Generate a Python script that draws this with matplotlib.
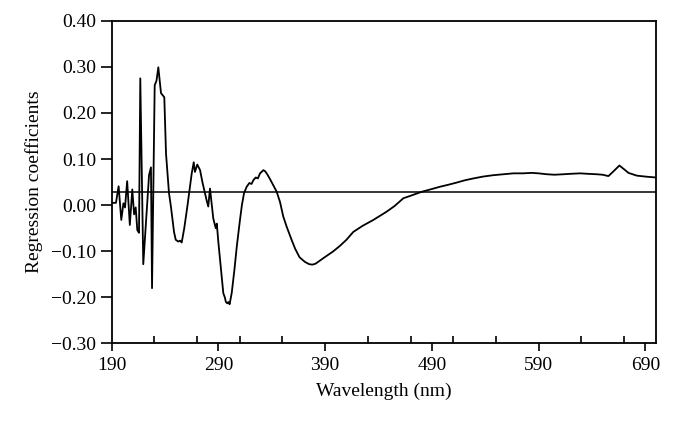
"""Regression coefficients versus wavelength"""

import numpy as np
from matplotlib import pyplot as plt
from matplotlib.ticker import MultipleLocator, FixedLocator

wavelength = [
    190, 194, 196.5, 199, 201, 202.5, 204.5, 207, 209.3, 211, 212.5, 214, 215.6,
    216.8, 219.6, 225, 226.8, 227.8, 230.3, 232, 233.7, 235, 236.2, 239.3, 240.9,
    243.7, 245.5, 248.4, 250, 252.4, 254, 255.6, 258, 260.9, 265, 266.9, 268,
    270.2, 272.8, 275, 277.4, 279, 280.5, 282.1, 285.2, 287.5, 288.5, 289.9,
    292.2, 294.6, 296, 297, 298.3, 299.3, 300.5, 302.5, 305, 307.2, 310.2, 312,
    314, 316.5, 319, 321, 323, 325, 327, 329, 332.2, 334, 336, 338, 341, 344.6,
    347.7, 350.8, 354, 358.7, 362, 366, 371, 375, 378, 381, 388.3, 397.7, 404,
    410, 416.4, 425, 435.2, 447.7, 455, 463.3, 469.6, 480.5, 490, 497.7, 505,
    513.3, 521, 529, 538, 547.6, 557, 566.4, 575, 583.6, 590, 597.7, 605, 613.2,
    620, 628.9, 636, 644.5, 650, 655.4, 660, 665.7, 670, 674.2, 682, 690, 699.8,
]
coefficients = [
    0.005, 0.005, 0.041, -0.032, 0.004, -0.005, 0.052, -0.043, 0.034, -0.020,
    -0.005, -0.054, -0.060, 0.275, -0.128, 0.065, 0.082, -0.180, 0.260, 0.270,
    0.299, 0.270, 0.243, 0.234, 0.112, 0.026, -0.003, -0.058, -0.075, -0.079,
    -0.077, -0.081, -0.050, -0.003, 0.069, 0.093, 0.072, 0.088, 0.076, 0.050,
    0.026, 0.010, -0.003, 0.036, -0.029, -0.050, -0.040, -0.079, -0.134, -0.191,
    -0.200, -0.210, -0.213, -0.210, -0.215, -0.190, -0.140, -0.090, -0.032,
    0.000, 0.026, 0.040, 0.048, 0.046, 0.055, 0.060, 0.058, 0.069, 0.076, 0.073,
    0.066, 0.058, 0.045, 0.029, 0.007, -0.025, -0.047, -0.076, -0.095, -0.113,
    -0.123, -0.128, -0.129, -0.127, -0.115, -0.100, -0.088, -0.075, -0.058,
    -0.045, -0.032, -0.014, -0.002, 0.015, 0.020, 0.029, 0.035, 0.040, 0.044,
    0.049, 0.054, 0.058, 0.062, 0.065, 0.067, 0.069, 0.069, 0.070, 0.069, 0.067,
    0.066, 0.067, 0.068, 0.069, 0.068, 0.067, 0.066, 0.063, 0.073, 0.086, 0.078,
    0.070, 0.064, 0.062, 0.060,
]
reference_level = 0.028


def main():
    """Main method"""

    plt.rcParams['font.family'] = ['Liberation Serif', 'DejaVu Serif']
    fig = plt.figure(figsize=(6.74, 4.23), dpi=100)
    ax = fig.add_axes([0.1657, 0.188, 0.8076, 0.763])

    ax.plot(wavelength, coefficients, color='black', linewidth=1.3)
    ax.axhline(reference_level, color='black', linewidth=1.1)

    ax.set_xlim(190, 700)
    ax.set_ylim(-0.30, 0.40)
    ax.xaxis.set_major_locator(FixedLocator(np.arange(190, 691, 100)))
    ax.xaxis.set_minor_locator(FixedLocator([t for t in np.arange(230, 691, 40)
                                             if (t - 190) % 100 != 0]))
    ax.yaxis.set_major_locator(MultipleLocator(0.10))
    ax.yaxis.set_major_formatter(lambda v, _: '{:.2f}'.format(v).replace('-', '\u2212'))

    ax.tick_params(axis='x', which='major', direction='out', length=6, width=1.2,
                   labelsize=14, pad=4)
    ax.tick_params(axis='x', which='minor', direction='in', length=5, width=1.2)
    ax.tick_params(axis='y', which='major', direction='out', length=8, width=1.2,
                   labelsize=14, pad=3)
    for spine in ax.spines.values():
        spine.set_linewidth(1.3)

    ax.set_xlabel('Wavelength (nm)', fontsize=14, labelpad=6)
    ax.set_ylabel('Regression coefficients', fontsize=14, labelpad=6)

    fig.savefig('out.png', dpi=100)


if __name__ == '__main__':
    main()
